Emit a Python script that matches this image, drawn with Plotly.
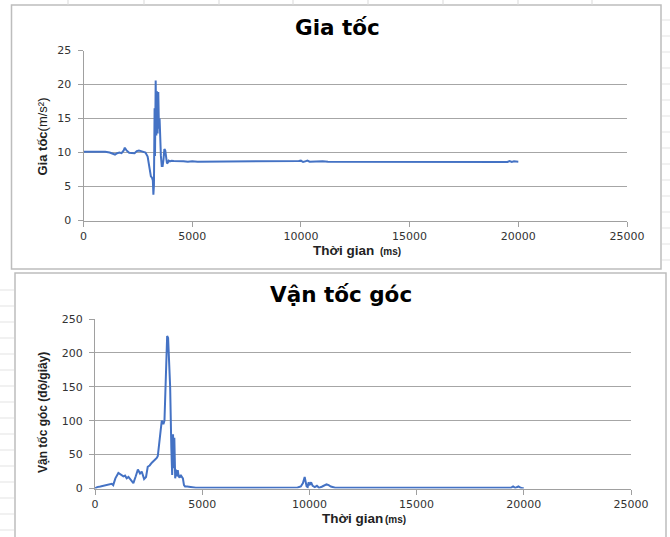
import plotly.graph_objects as go

W, H = 670, 537

# ---- Gia tốc (acceleration) data ----
acc_t = [0, 200, 400, 600, 800, 1000, 1200, 1350, 1450, 1550, 1650, 1750, 1850, 1900, 1980,
         2100, 2250, 2350, 2450, 2550, 2650, 2750, 2850, 2950, 3000, 3050, 3100, 3150, 3190,
         3215, 3240, 3270, 3290, 3320, 3350, 3380, 3410, 3440, 3470, 3500, 3530, 3560, 3600,
         3640, 3680, 3720, 3760, 3800, 3840, 3880, 3920, 3980, 4050, 4150, 4300, 4450, 4600,
         4800, 5000, 5250, 5500, 5750, 6000, 6250, 6500, 6750, 7000, 7250, 7500, 7750, 8000,
         8250, 8500, 8750, 9000, 9250, 9500, 9750, 9900, 10000, 10100, 10200, 10300, 10400,
         10600, 10800, 11000, 11250, 11500, 11750, 12000, 12250, 12500, 12750, 13000, 13250,
         13500, 13750, 14000, 14250, 14500, 14750, 15000, 15250, 15500, 15750, 16000, 16250,
         16500, 16750, 17000, 17250, 17500, 17750, 18000, 18250, 18500, 18750, 19000, 19250,
         19500, 19600, 19700, 19800, 19900, 20000]
acc_v = [10.1, 10.1, 10.1, 10.1, 10.15, 10.1, 10.0, 9.8, 9.7, 9.9, 10.0, 9.9, 10.3, 10.7, 10.3,
         9.95, 9.9, 9.9, 10.2, 10.3, 10.2, 10.1, 10.0, 9.4, 8.5, 7.5, 6.5, 6.3, 5.9,
         3.8, 5.2, 16.5, 9.5, 20.6, 12.5, 19.0, 12.8, 18.9, 13.5, 15.0, 11.0, 9.5, 8.0,
         8.0, 9.0, 10.5, 10.3, 9.4, 8.4, 8.5, 8.8, 8.7, 8.8, 8.75, 8.7, 8.75, 8.7,
         8.65, 8.7, 8.65, 8.65, 8.7, 8.65, 8.65, 8.7, 8.65, 8.65, 8.65, 8.7, 8.65, 8.65,
         8.65, 8.7, 8.65, 8.65, 8.65, 8.7, 8.65, 8.75, 8.8, 8.6, 8.7, 8.8, 8.65,
         8.7, 8.65, 8.7, 8.65, 8.65, 8.7, 8.65, 8.65, 8.65, 8.7, 8.65, 8.65,
         8.65, 8.7, 8.65, 8.65, 8.65, 8.65, 8.7, 8.65, 8.65, 8.65, 8.7, 8.65,
         8.65, 8.65, 8.7, 8.65, 8.65, 8.65, 8.65, 8.7, 8.65, 8.65, 8.65, 8.65,
         8.6, 8.75, 8.6, 8.7, 8.65, 8.65]

# ---- Vận tốc góc (angular velocity) data ----
gyr_t = [0, 100, 250, 400, 545, 700, 780, 850, 950, 1090, 1200, 1325, 1400, 1480, 1560, 1650,
         1790, 1900, 2000, 2100, 2180, 2290, 2380, 2460, 2550, 2650, 2750, 2880, 2930, 2975,
         3005, 3060, 3115, 3160, 3190, 3240, 3290, 3340, 3365, 3410, 3460, 3505, 3560, 3600,
         3640, 3670, 3700, 3740, 3780, 3820, 3860, 3900, 3950, 4000, 4050, 4100, 4150, 4200,
         4300, 4500, 4700, 5000, 5250, 5500, 5750, 6000, 6250, 6500, 6750, 7000, 7250, 7500,
         7750, 8000, 8250, 8500, 8750, 9000, 9250, 9450, 9600, 9700, 9780, 9830, 9870, 9920,
         9960, 10020, 10080, 10150, 10250, 10350, 10450, 10600, 10800, 10900, 11000, 11200,
         11500, 11800, 11900, 12000, 12250, 12500, 12750, 13000, 13250, 13500, 13750, 14000,
         14250, 14500, 14750, 15000, 15250, 15500, 15750, 16000, 16250, 16500, 16750, 17000,
         17250, 17500, 17750, 18000, 18250, 18500, 18750, 19000, 19300, 19400, 19500, 19600,
         19750, 19850, 20000]
gyr_v = [0, 2, 3, 4, 5, 6, 7, 5, 15, 23, 20, 18, 19, 15, 17, 14,
         8, 18, 28, 22, 25, 14, 17, 32, 34, 38, 41, 45, 48, 65,
         75, 85, 100, 96, 95, 100, 150, 205, 225, 222, 185, 150, 60, 20,
         80, 30, 75, 15, 28, 18, 27, 18, 16, 20, 17, 15, 5, 3,
         3, 2, 1, 1, 1.5, 1, 1, 1.5, 1, 1, 1, 1.5, 1, 1,
         1, 1.5, 1, 1, 1.5, 1, 1, 1.5, 3, 8, 17, 10, 3, 2,
         9, 6, 9, 4, 2, 4, 1, 3, 6, 5, 3, 1,
         1, 1, 2, 1, 1, 1.5, 1, 1, 1.5, 1, 1, 1.5,
         1, 1, 1.5, 1, 1, 1.5, 1, 1, 1, 1.5, 1, 1,
         1.5, 1, 1, 1.5, 1, 1, 1, 1, 2, 1, 3, 1,
         3, 1, 0]

x_ticks = [0, 5000, 10000, 15000, 20000, 25000]
acc_y_ticks = [0, 5, 10, 15, 20, 25]
gyr_y_ticks = [0, 50, 100, 150, 200, 250]

LINE = "#4472C4"
GRID = "#a6a6a6"
AXIS = "#a0a0a0"
TICKFONT = dict(family="DejaVu Sans", size=11, color="#333333")


def px(x):
    return x / W


def py(y):
    return 1 - y / H


fig = go.Figure()
fig.add_trace(go.Scatter(x=acc_t, y=acc_v, mode="lines", line=dict(color=LINE, width=2),
                         xaxis="x", yaxis="y", showlegend=False, hoverinfo="skip"))
fig.add_trace(go.Scatter(x=gyr_t, y=gyr_v, mode="lines", line=dict(color=LINE, width=2),
                         xaxis="x2", yaxis="y2", showlegend=False, hoverinfo="skip"))

common_x = dict(range=[0, 25000], tickvals=x_ticks, ticktext=[str(v) for v in x_ticks],
                showline=True, linecolor=AXIS, linewidth=1, ticks="outside", ticklen=5,
                tickcolor=AXIS, showgrid=False, zeroline=False, tickfont=TICKFONT,
                automargin=False)
common_y = dict(showline=True, linecolor=AXIS, linewidth=1, ticks="outside", ticklen=5,
                tickcolor=AXIS, showgrid=True, gridcolor=GRID, gridwidth=1, zeroline=False,
                tickfont=TICKFONT, automargin=False, ticklabelstandoff=4)

fig.update_layout(
    width=W, height=H, autosize=False,
    margin=dict(l=0, r=0, t=0, b=0, pad=0, autoexpand=False),
    paper_bgcolor="white", plot_bgcolor="white",
    xaxis=dict(domain=[px(83.5), px(627)], anchor="y", **common_x),
    yaxis=dict(domain=[py(220.5), py(50.5)], anchor="x", range=[0, 25],
               tickvals=acc_y_ticks, **common_y),
    xaxis2=dict(domain=[px(95), px(631)], anchor="y2", **common_x),
    yaxis2=dict(domain=[py(488.5), py(319)], anchor="x2", range=[0, 250],
                tickvals=gyr_y_ticks, **common_y),
)

# chart borders (screenshot of two spreadsheet charts)
BORDER = "#bdbdbd"
fig.add_shape(type="rect", xref="paper", yref="paper", x0=px(11.5), x1=px(661), y0=py(269), y1=py(5),
              line=dict(color=BORDER, width=1.5), layer="below")
fig.add_shape(type="rect", xref="paper", yref="paper", x0=px(15), x1=px(666), y0=py(545), y1=py(273),
              line=dict(color=BORDER, width=1.5), layer="below")
# spreadsheet column / row lines peeking out
for cx in [68, 144, 219, 293, 368, 443, 518, 592]:
    fig.add_shape(type="line", xref="paper", yref="paper", x0=px(cx), x1=px(cx), y0=py(0), y1=py(5),
                  line=dict(color="#d9d9d9", width=1))
for ry in range(290, 537, 16):
    fig.add_shape(type="line", xref="paper", yref="paper", x0=px(0), x1=px(14), y0=py(ry), y1=py(ry),
                  line=dict(color="#e3e3e3", width=1))
for ry in range(20, 270, 16):
    fig.add_shape(type="line", xref="paper", yref="paper", x0=px(662), x1=px(670), y0=py(ry), y1=py(ry),
                  line=dict(color="#e3e3e3", width=1))

TITLE_FONT = dict(family="DejaVu Sans", size=21.5, color="#000000")
XT_FONT = dict(family="Liberation Sans", size=13.5, color="#222222")
SMALL_FONT = dict(family="Liberation Sans", size=10, color="#222222")
YT_FONT_TOP = dict(family="Liberation Sans", size=13, color="#222222")
YT_FONT_BOT = dict(family="Liberation Sans", size=12, color="#222222")

ann = [
    dict(x=px(337.5), y=py(27), text="<b>Gia tốc</b>", font=TITLE_FONT, xanchor="center"),
    dict(x=px(341), y=py(294), text="<b>Vận tốc góc</b>", font=TITLE_FONT, xanchor="center"),
    dict(x=px(375), y=py(250), text="<b>Thời gian</b>", font=XT_FONT, xanchor="right"),
    dict(x=px(379), y=py(251), text="<b>(ms)</b>", font=SMALL_FONT, xanchor="left"),
    dict(x=px(384), y=py(518), text="<b>Thời gian</b>", font=XT_FONT, xanchor="right"),
    dict(x=px(384), y=py(519), text="<b>(ms)</b>", font=SMALL_FONT, xanchor="left"),
    dict(x=px(41.5), y=py(137), text="<b>Gia tốc</b>(m/s²)", font=YT_FONT_TOP, textangle=-90,
         xanchor="center"),
    dict(x=px(43), y=py(413), text="<b>Vận tốc góc (độ/giây)</b>", font=YT_FONT_BOT, textangle=-90,
         xanchor="center"),
]
for a in ann:
    a.update(xref="paper", yref="paper", showarrow=False, yanchor="middle", borderpad=0)
    fig.add_annotation(**a)

fig.write_html("out.html", config={"displayModeBar": False},
               post_script="document.body.style.margin='0';document.body.style.overflow='hidden';")
